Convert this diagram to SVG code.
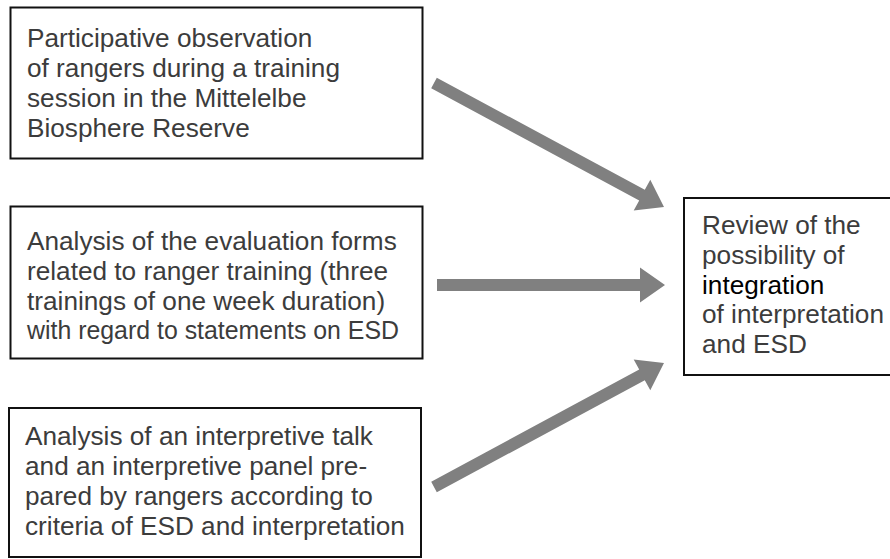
<svg xmlns="http://www.w3.org/2000/svg" width="890" height="559" viewBox="0 0 890 559">
  <style>
    .box { fill: #ffffff; stroke: #111111; stroke-width: 2; }
    .label { font-family: "Liberation Sans", Arial, Helvetica, sans-serif; font-size: 26.2px; fill: #3c3c3c; }
    .dark { fill: #000000; }
    .arrow { fill: #808080; stroke: none; }
  </style>
  <rect width="890" height="559" fill="#ffffff"/>

  <!-- method 1 -->
  <g id="observation">
    <rect class="box" x="10.5" y="7.5" width="412" height="151"/>
    <text class="label">
      <tspan x="27" y="47">Participative observation</tspan>
      <tspan x="27" y="77">of rangers during a training</tspan>
      <tspan x="27" y="107">session in the Mittelelbe</tspan>
      <tspan x="27" y="137">Biosphere Reserve</tspan>
    </text>
  </g>

  <!-- method 2 -->
  <g id="evaluation">
    <rect class="box" x="10.5" y="206.5" width="412" height="152"/>
    <text class="label">
      <tspan x="27" y="250">Analysis of the evaluation forms</tspan>
      <tspan x="27" y="280">related to ranger training (three</tspan>
      <tspan x="27" y="310">trainings of one week duration)</tspan>
    </text>
    <!-- last line is set tighter to fit the box -->
    <text class="label" x="27" y="339" textLength="372" lengthAdjust="spacingAndGlyphs">with regard to statements on ESD</text>
  </g>

  <!-- method 3 -->
  <g id="analysis">
    <rect class="box" x="9" y="408" width="412" height="149"/>
    <text class="label">
      <tspan x="25" y="445">Analysis of an interpretive talk</tspan>
      <tspan x="25" y="475">and an interpretive panel pre-</tspan>
      <tspan x="25" y="505">pared by rangers according to</tspan>
      <tspan x="25" y="535">criteria of ESD and interpretation</tspan>
    </text>
  </g>

  <!-- result -->
  <g id="review">
    <rect class="box" x="684" y="198" width="220" height="177"/>
    <text class="label">
      <tspan x="702" y="234">Review of the</tspan>
      <tspan x="702" y="264">possibility of</tspan>
      <tspan x="702" y="294" class="dark">integration</tspan>
      <tspan x="702" y="323">of interpretation</tspan>
      <tspan x="702" y="353">and ESD</tspan>
    </text>
  </g>

  <!-- block arrows into the review box -->
  <g id="connectors">
    <polygon class="arrow" points="436.8,77.7 644.8,189.8 650.3,179.7 664,207 633.7,210.5 639.2,200.4 431.2,88.3"/>
    <polygon class="arrow" points="437,279 640,279 640,267.5 665,285 640,302.5 640,291 437,291"/>
    <polygon class="arrow" points="436.8,492.3 644.8,380.2 650.3,390.3 664,363 633.7,359.5 639.2,369.6 431.2,481.7"/>
  </g>
</svg>
